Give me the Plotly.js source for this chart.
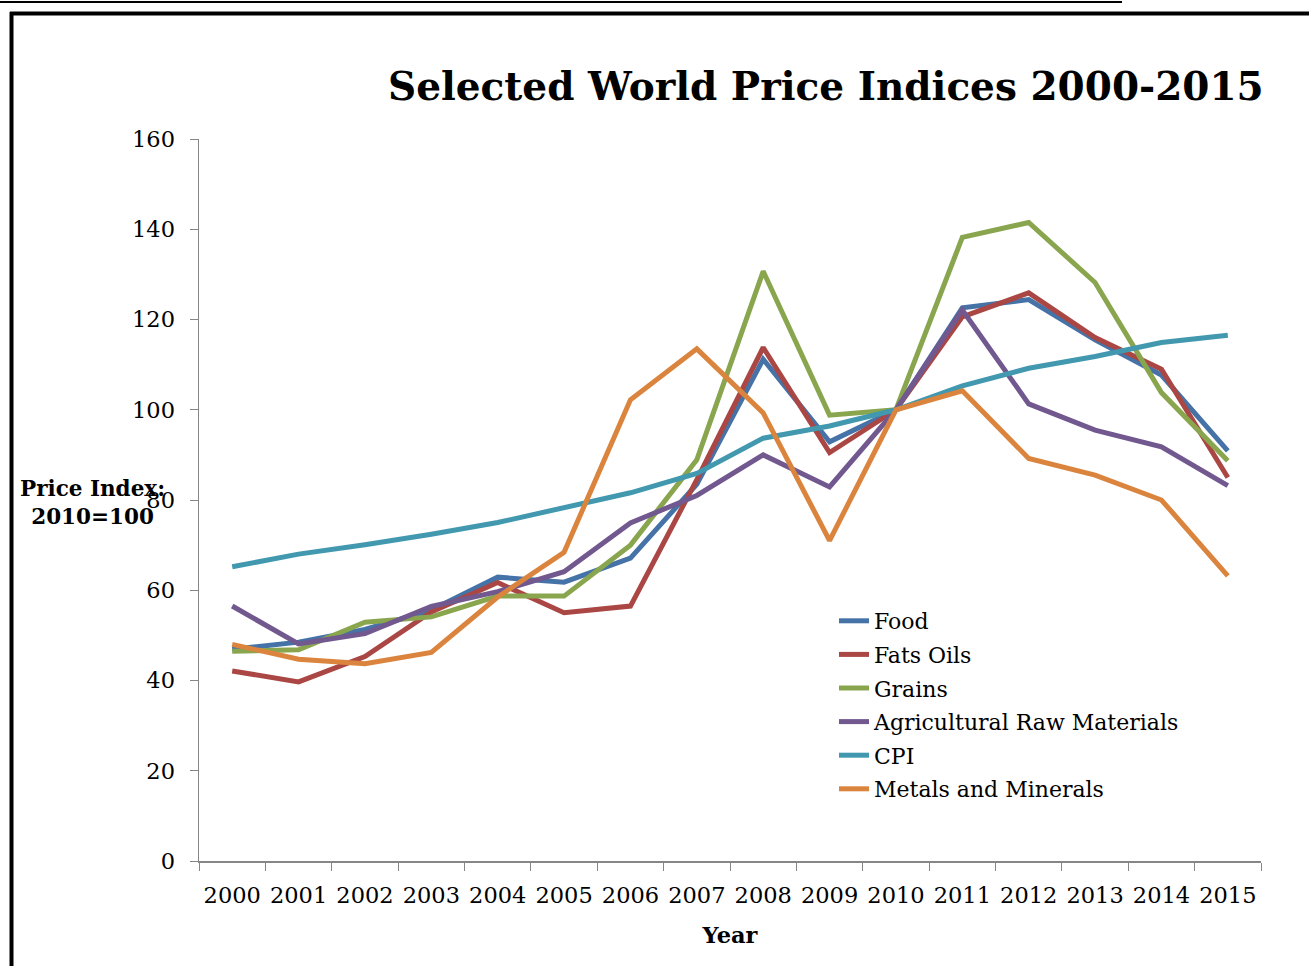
<!DOCTYPE html>
<html>
<head>
<meta charset="utf-8">
<script src="https://cdn.plot.ly/plotly-3.0.1.min.js"></script>
<style>
html,body{margin:0;padding:0;background:#fff;}
#chart{width:1309px;height:966px;}
</style>
</head>
<body>
<div id="chart"></div>
<script>
const years = ["2000","2001","2002","2003","2004","2005","2006","2007","2008","2009","2010","2011","2012","2013","2014","2015"];
const food    = [46.9, 48.5, 51.3, 55.6, 62.9, 61.8, 67.1, 83.5, 111.2, 92.9, 100, 122.6, 124.4, 115.5, 107.7, 90.9];
const fatsOils= [42.1, 39.7, 45.3, 55.2, 61.7, 55.0, 56.5, 84.5, 113.8, 90.5, 100, 120.6, 125.9, 116.0, 109.0, 85.0];
const grains  = [46.5, 46.8, 52.9, 54.1, 58.7, 58.7, 70.0, 88.9, 130.7, 98.8, 100, 138.2, 141.5, 128.2, 103.8, 88.7];
const agri    = [56.5, 48.1, 50.4, 56.4, 59.7, 64.1, 74.9, 81.0, 90.0, 82.9, 100, 122.1, 101.3, 95.5, 91.8, 83.2];
const cpi     = [65.2, 68.0, 70.1, 72.4, 75.0, 78.2, 81.6, 85.9, 93.7, 96.4, 100, 105.3, 109.2, 111.8, 114.9, 116.5];
const metals  = [48.0, 44.7, 43.7, 46.2, 58.5, 68.4, 102.2, 113.5, 99.3, 71.0, 100, 104.2, 89.2, 85.5, 80.0, 63.2];

const seriesNames = ["Food","Fats Oils","Grains","Agricultural Raw Materials","CPI","Metals and Minerals"];
const seriesData = [food, fatsOils, grains, agri, cpi, metals];
const colors = ["#4572A7","#AA4643","#89A54E","#71588F","#4198AF","#DB843D"];

const FONT = "DejaVu Serif, Liberation Serif, serif";

const traces = seriesNames.map((n,i)=>({
  type:"scatter", mode:"lines", name:n, legendgroup:"g"+i, x:years, y:seriesData[i],
  line:{color:colors[i], width:5}
}));

// plot area in pixels
const L=199, R=1261, T=139, B=861, W=1309, H=966;
const px = x => (x-L)/(R-L);
const py = y => (B-y)/(B-T);

const layout = {
  width:W, height:H,
  margin:{l:L, r:W-R, t:T, b:H-B},
  paper_bgcolor:"#fff", plot_bgcolor:"#fff",
  font:{family:FONT, color:"#000", size:22},
  showlegend:true,
  legend:{x:px(834), y:py(600), xanchor:"left", yanchor:"top",
    font:{family:FONT, size:22, color:"#000"}, bgcolor:"rgba(0,0,0,0)",
    tracegroupgap:2},
  xaxis:{type:"category", range:[-0.5,15.5], showgrid:false, zeroline:false,
    showline:true, linecolor:"#868686", linewidth:1.5,
    ticks:"outside", tickson:"boundaries", ticklen:8, tickcolor:"#868686",
    ticklabelstandoff:13,
    tickfont:{family:FONT, size:22.5, color:"#000"},
    title:{text:"<b>Year</b>", font:{family:FONT, size:22.5, color:"#000"}, standoff:20},
    fixedrange:true},
  yaxis:{range:[0,160], dtick:20, showgrid:false, zeroline:false,
    showline:true, linecolor:"#868686", linewidth:1.5,
    ticks:"outside", ticklen:8, tickcolor:"#868686",
    ticklabelstandoff:10,
    tickfont:{family:FONT, size:22.5, color:"#000"},
    fixedrange:true},
  annotations:[
    {text:"<b>Selected World Price Indices 2000-2015</b>", xref:"paper", yref:"paper",
     x:px(1266), y:py(86), xanchor:"right", yanchor:"middle", showarrow:false,
     font:{family:FONT, size:39, color:"#000"}},
    {text:"<b>Price Index:</b><br><b>2010=100</b>", xref:"paper", yref:"paper",
     x:px(92), y:py(502), xanchor:"center", yanchor:"middle", showarrow:false,
     font:{family:FONT, size:21.5, color:"#000"}, align:"center"}
  ],
  shapes:[
    {type:"line", xref:"paper", yref:"paper", x0:px(0), x1:px(1122), y0:py(2), y1:py(2),
     line:{color:"#000", width:2}},
    {type:"line", xref:"paper", yref:"paper", x0:px(11.5), x1:px(11.5), y0:py(12), y1:py(970),
     line:{color:"#000", width:4}},
    {type:"line", xref:"paper", yref:"paper", x0:px(10), x1:px(1312), y0:py(13.5), y1:py(13.5),
     line:{color:"#000", width:4}}
  ]
};

Plotly.newPlot("chart", traces, layout, {displayModeBar:false, staticPlot:true});
</script>
</body>
</html>
